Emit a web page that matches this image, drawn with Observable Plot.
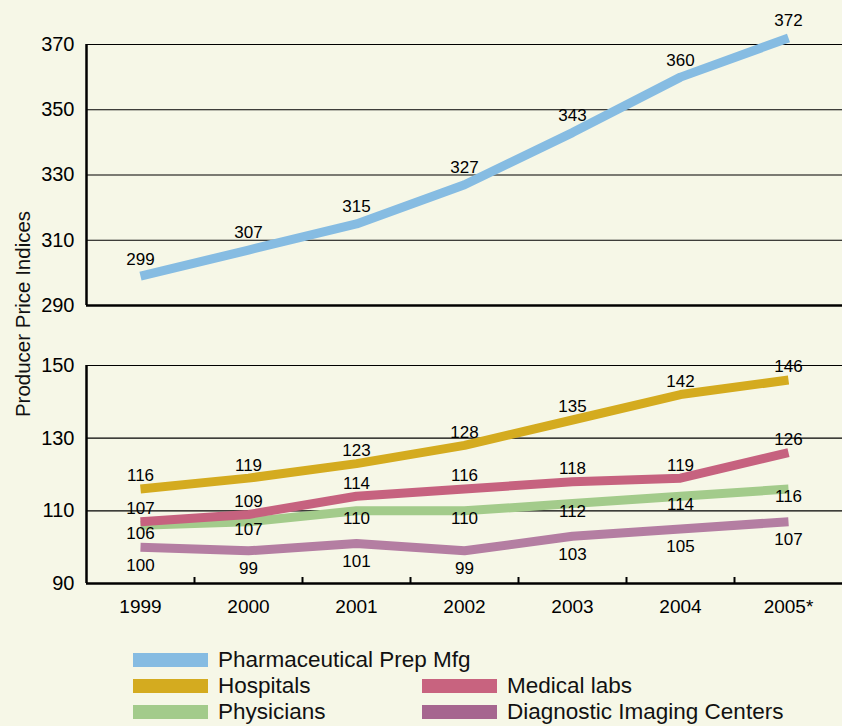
<!DOCTYPE html>
<html>
<head>
<meta charset="utf-8">
<script src="https://cdn.jsdelivr.net/npm/d3@7"></script>
<script src="https://cdn.jsdelivr.net/npm/@observablehq/plot@0.6"></script>
<style>
  html, body { margin: 0; padding: 0; background: #f6f7e7; }
  #wrap { position: relative; width: 842px; height: 726px; background: #f6f7e7; overflow: hidden;
          font-family: "Liberation Sans", Arial, Helvetica, sans-serif; color: #111; }
  #top, #bottom { position: absolute; left: 0; }
  #top { top: 0; }
  #bottom { top: 320px; }
  #ytitle { position: absolute; left: 23px; top: 314px; transform: translate(-50%, -50%) rotate(-90deg);
            white-space: nowrap; font-size: 20.5px; }
  .leg { position: absolute; display: flex; align-items: center; font-size: 22.5px; white-space: nowrap; }
  .sw { width: 75px; height: 14px; margin-right: 10px; }
</style>
</head>
<body>
<div id="wrap">
  <div id="top"></div>
  <div id="bottom"></div>
  <div id="ytitle">Producer Price Indices</div>
  <div id="legend"></div>
</div>
<script>
// ---- data ----
const years = ["1999", "2000", "2001", "2002", "2003", "2004", "2005*"];
const pharma = [299, 307, 315, 327, 343, 360, 372];
const hospitals = [116, 119, 123, 128, 135, 142, 146];
const medLabs = [107, 109, 114, 116, 118, 119, 126];
const physicians = [106, 107, 110, 110, 112, 114, 116];
const imaging = [100, 99, 101, 99, 103, 105, 107];
const topTicks = [290, 310, 330, 350, 370];
const bottomTicks = [90, 110, 130, 150];
const seriesNames = ["Pharmaceutical Prep Mfg", "Hospitals", "Medical labs", "Physicians", "Diagnostic Imaging Centers"];

// ---- styles ----
const colors = {
  "Pharmaceutical Prep Mfg": "#86bce2",
  "Hospitals": "#d4ab1f",
  "Medical labs": "#c6627f",
  "Physicians": "#a3cb8b",
  "Diagnostic Imaging Centers": "#b47ea2"
};
const legendColors = {
  "Pharmaceutical Prep Mfg": "#86bce2",
  "Hospitals": "#d4ab1f",
  "Medical labs": "#c8637f",
  "Physicians": "#a3cb8b",
  "Diagnostic Imaging Centers": "#a6668f"
};
const labelDy = {
  "Pharmaceutical Prep Mfg": -17,
  "Hospitals": -13,
  "Medical labs": -13,
  "Physicians": 8,
  "Diagnostic Imaging Centers": 18
};

const rows = (name, vals) => vals.map((v, i) => ({series: name, i, v}));
const pharmaRows = rows("Pharmaceutical Prep Mfg", pharma);
const bottomSeries = [
  ["Physicians", physicians],
  ["Diagnostic Imaging Centers", imaging],
  ["Medical labs", medLabs],
  ["Hospitals", hospitals]
];
const bottomRows = bottomSeries.map(([n, v]) => rows(n, v));

const xIdx = years.map((_, i) => i);
const boundaries = years.slice(1).map((_, i) => i + 0.5);
const font = '"Liberation Sans", Arial, Helvetica, sans-serif';
const ink = "#000";

const lineOpts = name => ({x: "i", y: "v", stroke: colors[name], strokeWidth: 9,
  strokeLinecap: "butt", strokeLinejoin: "miter"});
const textOpts = name => ({x: "i", y: "v", text: d => String(d.v), dy: labelDy[name],
  fontSize: 17, fill: ink});

// ---- top panel ----
const topPlot = Plot.plot({
  width: 842, height: 320,
  marginLeft: 86, marginRight: 0, marginTop: 44, marginBottom: 15,
  style: {background: "transparent", fontFamily: font, color: ink, overflow: "visible"},
  x: {domain: [-0.5, 6.5], axis: null},
  y: {domain: [290, 370], axis: null},
  marks: [
    Plot.ruleY(topTicks.slice(1), {stroke: ink, strokeWidth: 1.2}),
    Plot.ruleY([topTicks[0]], {stroke: ink, strokeWidth: 2.5}),
    Plot.ruleX([-0.5], {stroke: ink, strokeWidth: 2.5}),
    Plot.axisY({ticks: topTicks, tickSize: 0, tickPadding: 12, fontSize: 20, anchor: "left", label: null}),
    Plot.line(pharmaRows, lineOpts("Pharmaceutical Prep Mfg")),
    Plot.text(pharmaRows, textOpts("Pharmaceutical Prep Mfg"))
  ]
});
document.getElementById("top").appendChild(topPlot);

// ---- bottom panel ----
const bH = 330, bTop = 45, bBottom = 67;
const pxPerUnit = (bH - bTop - bBottom) / (bottomTicks[bottomTicks.length - 1] - bottomTicks[0]);
const tickLen = 6;
const bottomPlot = Plot.plot({
  width: 842, height: bH,
  marginLeft: 86, marginRight: 0, marginTop: bTop, marginBottom: bBottom,
  style: {background: "transparent", fontFamily: font, color: ink, overflow: "visible"},
  x: {domain: [-0.5, 6.5], axis: null},
  y: {domain: [90, 150], axis: null},
  marks: [
    Plot.ruleY(bottomTicks.slice(1), {stroke: ink, strokeWidth: 1.2}),
    Plot.ruleY([bottomTicks[0]], {stroke: ink, strokeWidth: 2.5}),
    Plot.ruleX([-0.5], {stroke: ink, strokeWidth: 2.5}),
    Plot.ruleX(boundaries, {x: d => d, y1: bottomTicks[0], y2: bottomTicks[0] + tickLen / pxPerUnit, stroke: ink, strokeWidth: 2}),
    Plot.axisY({ticks: bottomTicks, tickSize: 0, tickPadding: 12, fontSize: 20, anchor: "left", label: null}),
    Plot.axisX({ticks: xIdx, tickFormat: i => years[i], tickSize: 0, tickPadding: 16, fontSize: 19, anchor: "bottom", label: null}),
    ...bottomRows.map((r, k) => Plot.line(r, lineOpts(bottomSeries[k][0]))),
    ...bottomRows.map((r, k) => Plot.text(r, textOpts(bottomSeries[k][0])))
  ]
});
document.getElementById("bottom").appendChild(bottomPlot);

// ---- legend ----
const legendPos = [
  ["Pharmaceutical Prep Mfg", 133, 653],
  ["Hospitals", 133, 679],
  ["Medical labs", 422, 679],
  ["Physicians", 133, 705],
  ["Diagnostic Imaging Centers", 422, 705]
];
const leg = document.getElementById("legend");
for (const [name, x, y] of legendPos) {
  const d = document.createElement("div");
  d.className = "leg";
  d.style.left = x + "px";
  d.style.top = (y - 4) + "px";
  d.style.height = "22px";
  const s = document.createElement("div");
  s.className = "sw";
  s.style.background = legendColors[name];
  const t = document.createElement("span");
  t.textContent = name;
  d.appendChild(s);
  d.appendChild(t);
  leg.appendChild(d);
}
</script>
</body>
</html>
